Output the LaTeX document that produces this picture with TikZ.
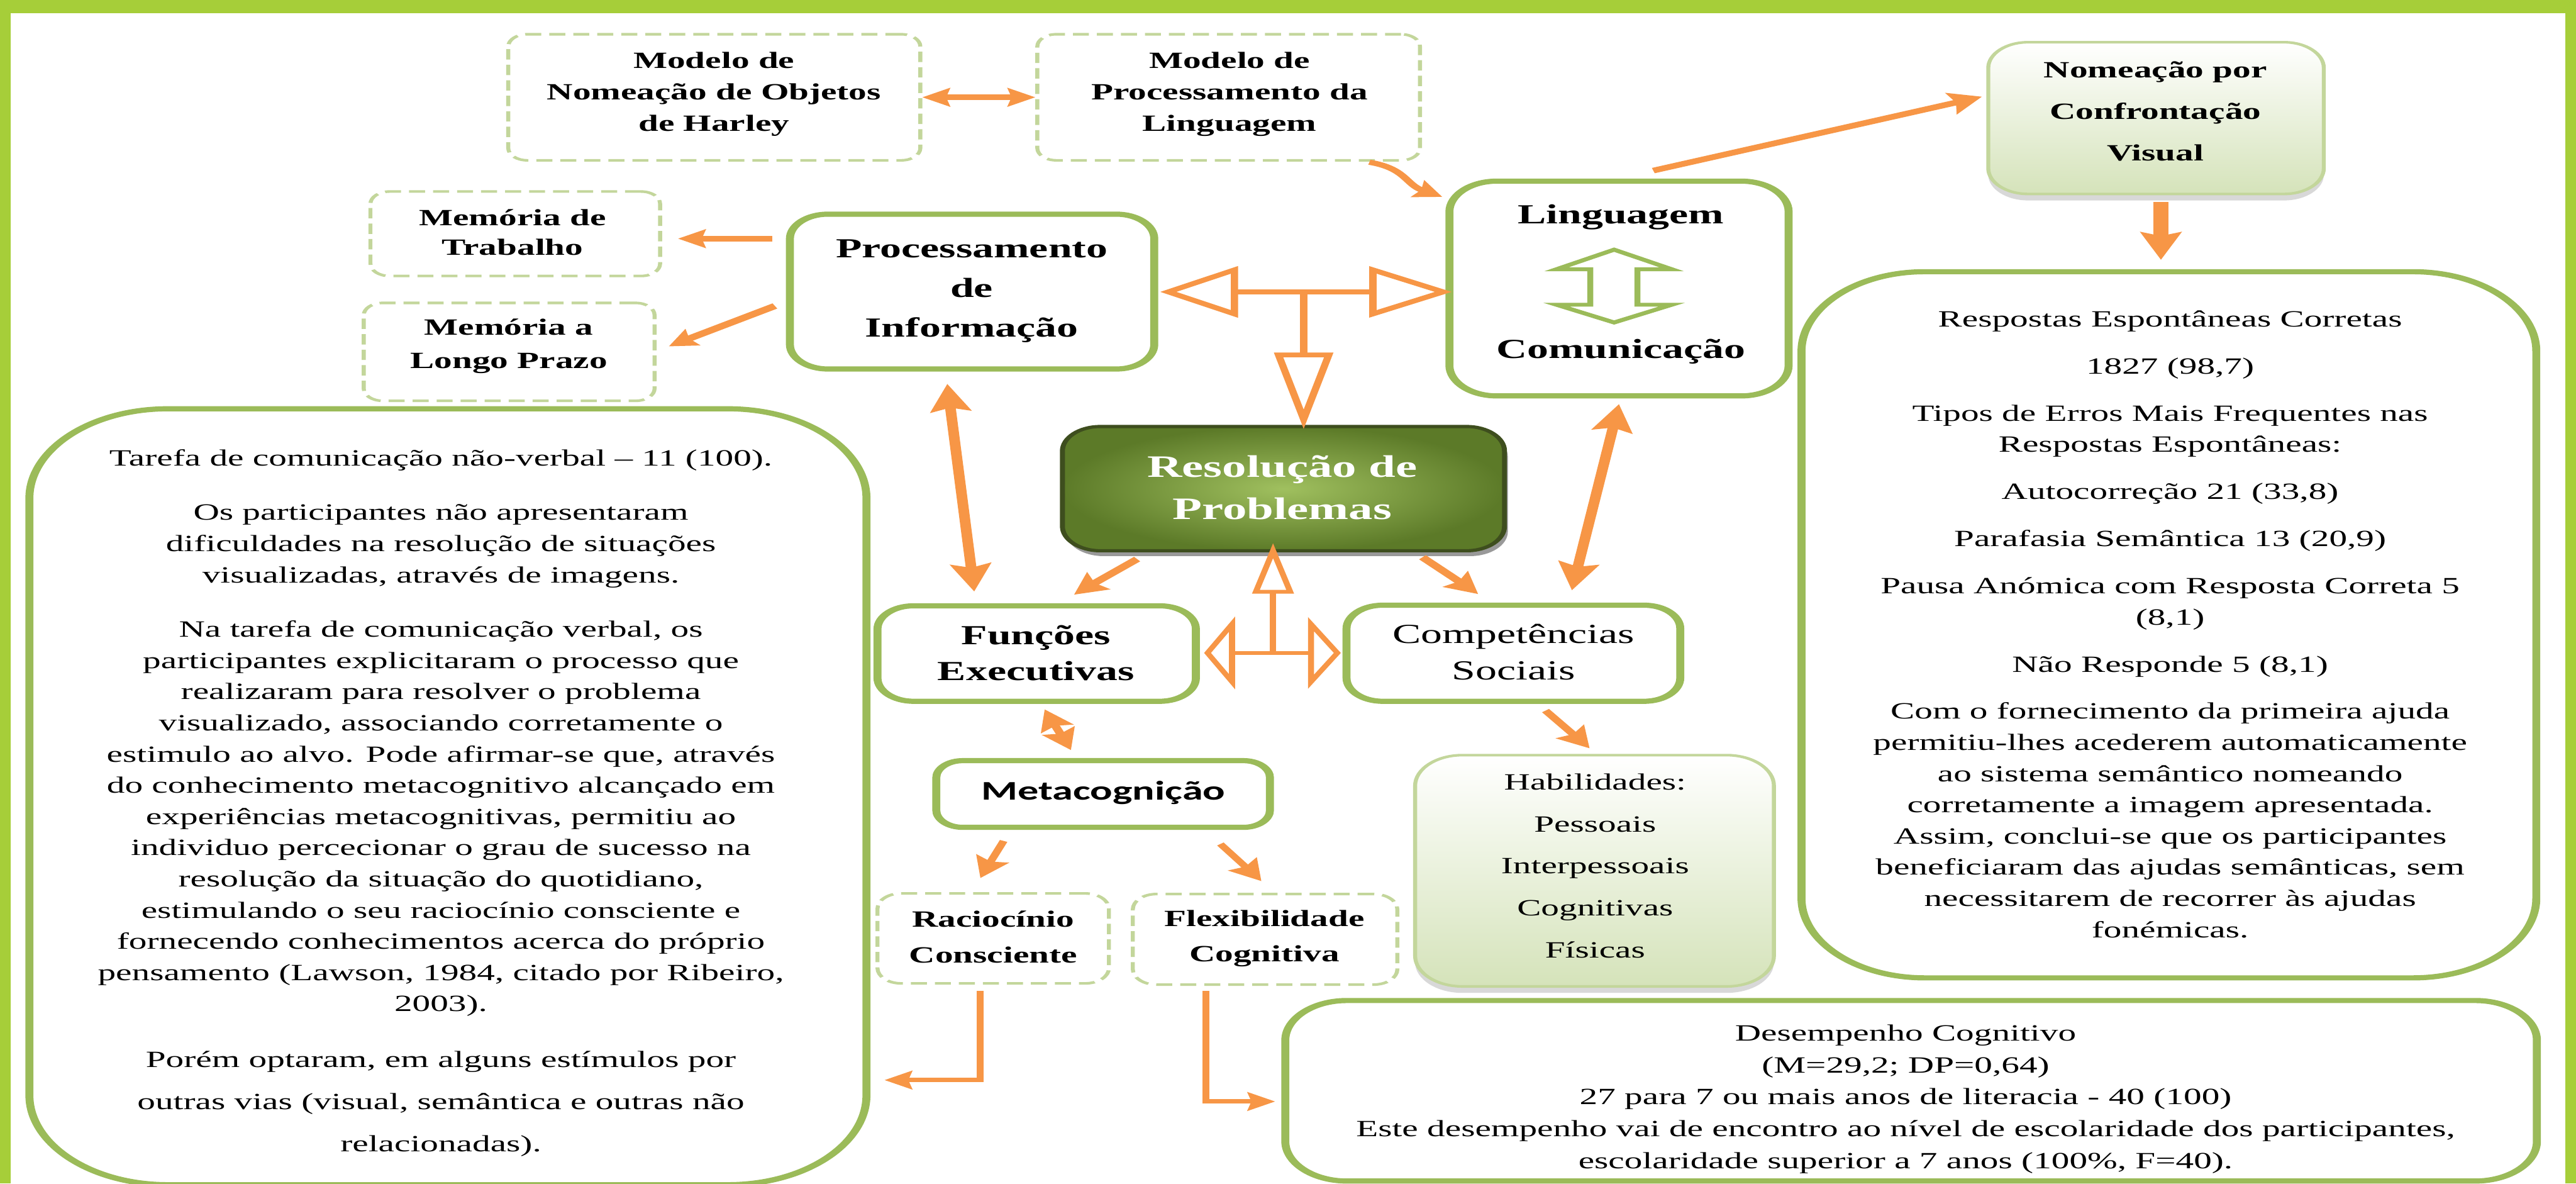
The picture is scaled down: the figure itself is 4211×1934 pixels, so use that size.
\documentclass[tikz,border=0pt]{standalone}
\usepackage{fontspec}
\setmainfont{Liberation Serif}
\newfontfamily\calib{Carlito}
\usetikzlibrary{arrows.meta,calc,shadows}
\definecolor{frameg}{RGB}{166,206,57}
\definecolor{boxg}{RGB}{155,187,89}
\definecolor{dashg}{RGB}{195,214,155}
\definecolor{org}{RGB}{247,150,70}
\definecolor{lightg}{RGB}{213,227,186}
\definecolor{darkg}{RGB}{62,78,30}
\definecolor{resin}{RGB}{160,192,95}
\definecolor{resout}{RGB}{92,122,40}
\tikzset{
  sz/.style 2 args={minimum width=#1*0.0064516cm, minimum height=#2*0.01cm},
  gbox/.style={draw=boxg, line width=2.4pt, fill=white, inner sep=0pt, rounded corners=#1},
  dbox/.style={draw=dashg, line width=1.2pt, dash pattern=on 4.8pt off 2.4pt, inner sep=0pt, rounded corners=#1},
  grad/.style={draw=dashg, line width=1.2pt, inner sep=0pt, rounded corners=#1, top color=white, bottom color=lightg,
     drop shadow={shadow xshift=0pt, shadow yshift=-3pt, opacity=0.3, fill=gray}},
  resbox/.style={draw=darkg, line width=1.5pt, inner sep=0pt, rounded corners=0.4cm, inner color=resin, outer color=resout,
     drop shadow={shadow xshift=1pt, shadow yshift=-2.5pt, opacity=0.4, fill=black}},
  txt/.style={align=center, inner sep=0pt},
  oarr/.style={draw=org, line join=miter},
  hol/.style={draw=org, line width=2.2pt, fill=white, line join=miter},
  tA/.tip={Stealth[length=0.29cm,width=0.30cm,inset=0.04cm]},
  tB/.tip={Stealth[length=0.34cm,width=0.36cm,inset=0.05cm]},
  tC/.tip={Stealth[length=0.45cm,width=0.42cm,inset=0.06cm]},
}
\begin{document}
\begin{tikzpicture}[x=0.01cm,y=-0.01cm]
\useasboundingbox (0,0) rectangle (4211,1934);
\fill[white] (0,0) rectangle (4211,1934);
\begin{scope}[x=0.0064516cm, transform canvas={xscale=1.55}]
% ---------- boxes ----------
\node[dbox=0.2cm, sz={673}{206}] (harley) at (1166.5,159) {};
\node[dbox=0.2cm, sz={625}{206}] (modelo) at (2006.5,159) {};
\node[dbox=0.2cm, sz={473}{138}] (memtrab) at (841.5,382) {};
\node[dbox=0.2cm, sz={475}{160}] (memlp) at (831.5,575) {};
\node[gbox=0.4cm, sz={595}{253}] (proc) at (1587.5,476.5) {};
\node[gbox=0.5cm, sz={554}{351}] (ling) at (2644,471.5) {};
\node[grad=0.42cm, sz={548}{248}] (nomea) at (3521,193) {};
\node[gbox=1.3cm, sz={1200}{1154}] (resp) at (3542,1021) {};
\node[gbox=1.46cm, sz={1367}{1268}] (tarefa) at (731.5,1302) {};
\node[resbox, sz={722}{203}] (resol) at (2096,798.5) {};
\node[gbox=0.38cm, sz={520}{156}] (func) at (1693,1068) {};
\node[gbox=0.38cm, sz={545}{157}] (comp) at (2471.5,1067.5) {};
\node[gbox=0.28cm, sz={545}{109}] (meta) at (1801.5,1297.5) {};
\node[dbox=0.25cm, sz={378}{147}] (raci) at (1622,1533.5) {};
\node[dbox=0.25cm, sz={432}{148}] (flex) at (2066,1535) {};
\node[grad=0.5cm, sz={586}{378}] (habil) at (2604,1423) {};
\node[gbox=0.65cm, sz={2044}{295}] (desemp) at (3121,1782.5) {};
% ---------- texts ----------
\node[txt, font=\bfseries\fontsize{10.8}{14.65}\selectfont] (harleyt) at (1166,153.5) {Modelo de\\Nomeação de Objetos\\de Harley};
\node[txt, font=\bfseries\fontsize{10.8}{14.5}\selectfont] (modelot) at (2008,154) {Modelo de\\Processamento da\\Linguagem};
\node[txt, font=\bfseries\fontsize{10.8}{13.9}\selectfont] (memtrabt) at (837,379.5) {Memória de\\Trabalho};
\node[txt, font=\bfseries\fontsize{10.8}{15.4}\selectfont] (memlpt) at (831,566) {Memória a\\Longo Prazo};
\node[txt, font=\bfseries\fontsize{12.8}{18.35}\selectfont] (proct) at (1587,475.5) {Processamento\\de\\Informação};
\node[txt, font=\bfseries\fontsize{12.8}{62.3}\selectfont] (lingt) at (2647,464.5) {Linguagem\\Comunicação};
\node[txt, font=\bfseries\fontsize{10.8}{19.35}\selectfont] (nomeat) at (3520,182) {Nomeação por\\Confrontação\\Visual};
\node[txt, font=\fontsize{10.8}{14.5}\selectfont] (respt) at (3544,1020) {Respostas Espontâneas Corretas\\[7.4pt]
1827 (98,7)\\[7.4pt]
Tipos de Erros Mais Frequentes nas\\
Respostas Espontâneas:\\[7.4pt]
Autocorreção 21 (33,8)\\[7.4pt]
Parafasia Semântica 13 (20,9)\\[7.4pt]
Pausa Anómica com Resposta Correta 5\\
(8,1)\\[7.4pt]
Não Responde 5 (8,1)\\[7.4pt]
Com o fornecimento da primeira ajuda\\
permitiu-lhes acederem automaticamente\\
ao sistema semântico nomeando\\
corretamente a imagem apresentada.\\
Assim, conclui-se que os participantes\\
beneficiaram das ajudas semânticas, sem\\
necessitarem de recorrer às ajudas\\
fonémicas.};
\node[txt, font=\fontsize{10.8}{14.5}\selectfont] (tarefat) at (720,1312) {Tarefa de comunicação não-verbal – 11 (100).\\[10.8pt]
Os participantes não apresentaram\\
dificuldades na resolução de situações\\
visualizadas, através de imagens.\\[10.8pt]
Na tarefa de comunicação verbal, os\\
participantes explicitaram o processo que\\
realizaram para resolver o problema\\
visualizado, associando corretamente o\\
estimulo ao alvo. Pode afirmar-se que, através\\
do conhecimento metacognitivo alcançado em\\
experiências metacognitivas, permitiu ao\\
individuo percecionar o grau de sucesso na\\
resolução da situação do quotidiano,\\
estimulando o seu raciocínio consciente e\\
fornecendo conhecimentos acerca do próprio\\
pensamento (Lawson, 1984, citado por Ribeiro,\\
2003).\\[11.5pt]
Porém optaram, em alguns estímulos por\\[5pt]
outras vias (visual, semântica e outras não\\[5pt]
relacionadas).};
\node[txt, text=white, font=\bfseries\fontsize{14.5}{19.6}\selectfont] (resolt) at (2094,796.5) {Resolução de\\Problemas};
\node[txt, font=\bfseries\fontsize{12.8}{16.5}\selectfont] (funct) at (1692,1067) {Funções\\Executivas};
\node[txt, font=\fontsize{12.8}{17}\selectfont] (compt) at (2472,1066) {Competências\\Sociais};
\node[txt, font=\calib\bfseries\fontsize{12.5}{15}\selectfont] (metat) at (1802,1295) {Metacognição};
\node[txt, font=\bfseries\fontsize{10.8}{16.5}\selectfont] (racit) at (1622,1531) {Raciocínio\\Consciente};
\node[txt, font=\bfseries\fontsize{10.8}{16.2}\selectfont] (flext) at (2065,1533.5) {Flexibilidade\\Cognitiva};
\node[txt, font=\fontsize{10.8}{19.5}\selectfont] (habilt) at (2605,1415) {Habilidades:\\Pessoais\\Interpessoais\\Cognitivas\\Físicas};
\node[txt, font=\fontsize{10.8}{14.8}\selectfont] (desempt) at (3112,1796) {Desempenho Cognitivo\\(M=29,2; DP=0,64)\\27 para 7 ou mais anos de literacia - 40 (100)\\Este desempenho vai de encontro ao nível de escolaridade dos participantes,\\escolaridade superior a 7 anos (100\%, F=40).};
% ---------- green double arrow in Linguagem ----------
\draw[draw=boxg, line width=1.8pt, fill=white, line join=miter] (2636,408) -- (2730,440) -- (2674,440) -- (2674,498) -- (2730,498) -- (2636,527) -- (2542,498) -- (2597,498) -- (2597,440) -- (2542,440) -- cycle;
% ---------- hollow T arrows ----------
\coordinate (j1) at (2129,477);
\draw[hol] (2016,477) -- (2242,477);
\draw[hol] (j1) -- (2129,580);
\draw[hol] (2016,441) -- (1908,477) -- (2016,513) -- cycle;
\draw[hol] (2242,441) -- (2357,477) -- (2242,513) -- cycle;
\draw[hol] (2088,580) -- (2129,685) -- (2170,580) -- cycle;
\coordinate (j2) at (2079,1067);
\draw[hol, line width=1.8pt] (2012,1067) -- (2141,1067);
\draw[hol, line width=1.8pt] (j2) -- (2079,967);
\draw[hol, line width=1.8pt] (2051,967) -- (2079,900) -- (2107,967) -- cycle;
\draw[hol, line width=1.8pt] (2012,1020) -- (1972,1067) -- (2012,1114) -- cycle;
\draw[hol, line width=1.8pt] (2141,1020) -- (2184,1067) -- (2141,1114) -- cycle;
% ---------- orange arrows ----------
\draw[oarr, line width=2.5pt, {tA}-{tA}] (harley.east) -- (modelo.west);
\draw[oarr, line width=2.8pt, -{tA}] ($(proc.west)+(-22,-86.5)$) -- ($(memtrab.east)+(26,8)$);
\draw[oarr, line width=2.8pt, -{tA}] ($(proc.west)+(-18,23.5)$) -- ($(memlp.east)+(20,-9)$);
\draw[oarr, line width=2.4pt, -{tA}] ($(modelo.south east)+(-86,1)$) .. controls +(60,10) and +(-60,-20) .. ($(ling.north west)+(-5,30)$);
\draw[oarr, line width=2.6pt, -{tB}] ($(ling.north)+(56,-13)$) -- ($(nomea.west)+(-7,-35)$);
\draw[oarr, line width=4.4pt, -{tC}] ($(nomea.south)+(8,11)$) -- ($(resp.north)+(-13,-15)$);
\draw[oarr, line width=3.2pt, {tC}-{tC}] ($(proc.south)+(-40.5,20)$) -- ($(func.north)+(-102,-19)$);
\draw[oarr, line width=3.2pt, {tC}-{tC}] ($(ling.south)+(0,9)$) -- ($(comp.north)+(95.5,-20)$);
\draw[oarr, line width=2.8pt, -{tB}] ($(resol.south)+(-239,11)$) -- ($(func.north)+(61,-14)$);
\draw[oarr, line width=2.8pt, -{tB}] ($(resol.south)+(227,8)$) -- ($(comp.north)+(-57.5,-14)$);
\draw[oarr, line width=2.6pt, {tB}-{tB}] ($(func.south)+(13,9)$) -- ($(meta.north)+(-52.5,-13)$);
\draw[oarr, line width=2.6pt, -{tB}] ($(comp.south)+(52.5,11)$) -- ($(habil.north)+(-8,-9)$);
\draw[oarr, line width=2.4pt, -{tB}] ($(meta.south)+(-162.5,18)$) -- ($(raci.north)+(-21,-23)$);
\draw[oarr, line width=2.4pt, -{tB}] ($(meta.south)+(191.5,23)$) -- ($(flex.north)+(-6,-19)$);
\draw[oarr, line width=2.1pt, -{tA}] ($(raci.south)+(-21,10)$) |- ($(tarefa.east)+(23,463)$);
\draw[oarr, line width=2.1pt, -{tA}] ($(flex.south)+(-97,8)$) |- ($(desemp.west)+(-10,17.5)$);
\end{scope}
% ---------- frame ----------
\fill[frameg] (0,0) rectangle (4211,22);
\fill[frameg] (0,0) rectangle (17,1934);
\fill[frameg] (4193,0) rectangle (4211,1934);
\end{tikzpicture}
\end{document}
